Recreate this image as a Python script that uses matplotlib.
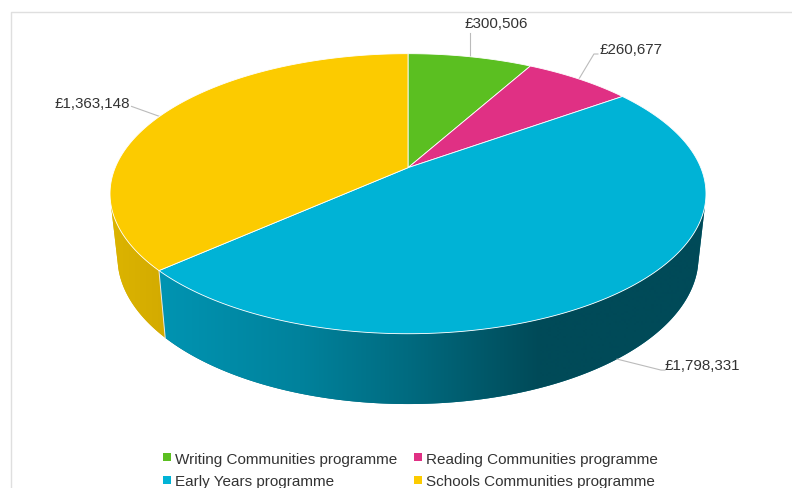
import numpy as np
import matplotlib
matplotlib.use("Agg")
import matplotlib.pyplot as plt
from matplotlib.patches import Polygon
from matplotlib.lines import Line2D
from matplotlib.colors import to_rgb

categories = ["Writing Communities programme", "Reading Communities programme",
              "Early Years programme", "Schools Communities programme"]
values = [300506, 260677, 1798331, 1363148]
labels = ["£300,506", "£260,677", "£1,798,331", "£1,363,148"]
colors = ["#5BBF21", "#E03084", "#00B3D6", "#FCCB00"]

plt.rcParams['font.family'] = ['Liberation Sans', 'DejaVu Sans']
TXT = "#333333"

fig = plt.figure(figsize=(7.92, 4.89), dpi=100)
ax = fig.add_axes([0, 0, 1, 1])
ax.axis("off")

# pie projection (perspective disc)
CX, CY = 408.0, 168.7
K, A, R = 0.1857, 135.2, 292.8
BOT_Y, BOT_SY, BOT_SX = 230.7, 1.05, 0.975
TH_MIN, TH_MAX = np.radians(105), np.radians(255)


def top(th):
    u, v = np.sin(th), np.cos(th)
    w = 1 + K * v
    return CX + R * u / w, CY - A * v / w


def bottom(th):
    u, v = np.sin(th), np.cos(th)
    w = 1 + K * v
    return CX + BOT_SX * R * u / w, BOT_Y - BOT_SY * A * v / w


vals = np.array(values, float)
edges = np.concatenate([[0], np.cumsum(vals) / vals.sum()]) * 2 * np.pi
mids = (edges[:-1] + edges[1:]) / 2

# side wall: horizontal gradient clipped to each visible wall section
side_stops = {
    2: ([160, 300, 408, 540, 710], ["#0094B2", "#00829C", "#006B80", "#004A58", "#004A58"]),
    3: ([105, 170], ["#DDB500", "#D2AA00"]),
}
for i, (xs, cs) in side_stops.items():
    t0, t1 = max(edges[i], TH_MIN), min(edges[i + 1], TH_MAX)
    if t1 <= t0:
        continue
    th = np.linspace(t0, t1, 300)
    tx, ty = top(th)
    bx, by = bottom(th)
    outline = np.column_stack([np.r_[tx, bx[::-1]], np.r_[ty, by[::-1]]])
    rgb = np.array([to_rgb(c) for c in cs])
    grid = np.arange(xs[0], xs[-1] + 1)
    img = np.stack([np.interp(grid, xs, rgb[:, j]) for j in range(3)], axis=-1)[None, :, :]
    base = Polygon(outline, closed=True, facecolor=tuple(rgb.mean(axis=0)), edgecolor="none", zorder=1.9)
    ax.add_patch(base)
    im = ax.imshow(img, extent=(xs[0], xs[-1], 489, 0), aspect="auto", zorder=2, interpolation="bilinear")
    im.set_clip_path(base)

ax.set_xlim(0, 792)
ax.set_ylim(489, 0)

# separator on the side wall
t = edges[3]
ax.plot([top(t)[0], bottom(t)[0]], [top(t)[1], bottom(t)[1]], color="#E8E8E8", lw=0.7, zorder=3)

# top face
for i in range(4):
    th = np.linspace(edges[i], edges[i + 1], 200)
    x, y = top(th)
    ax.fill(np.r_[CX, x], np.r_[CY, y], facecolor=colors[i], edgecolor="#FFFFFF",
            linewidth=0.6, joinstyle="round", zorder=4)

# frame
ax.plot([10.5, 10.5, 792], [489, 12.5, 12.5], color="#DFDFDF", lw=1.0, zorder=1)

# data labels with leader lines
LEAD = "#BBBBBB"
anchors = [top(mids[0]), top(mids[1]), bottom(mids[2]), top(mids[3])]
leaders = [[(0, -24)], [(15, -25), (19, -25)], [(44, 11), (48, 11)], [(-28, -10)]]
text_pos = [(496, 24, "center"), (600, 49.5, "left"), (665, 366, "left"), (130, 104, "right")]
for a, off, lab, (tx, ty, ha) in zip(anchors, leaders, labels, text_pos):
    xs = [a[0]] + [a[0] + o[0] for o in off]
    ys = [a[1]] + [a[1] + o[1] for o in off]
    ax.plot(xs, ys, color=LEAD, lw=0.8, zorder=3)
    ax.text(tx, ty, lab, ha=ha, va="center", fontsize=10.9, color=TXT, zorder=6)

# legend
handles = [Line2D([], [], linestyle="none", marker="s", markersize=5.4, color=c,
                  markeredgewidth=0) for c in colors]
order = [0, 2, 1, 3]
ax.legend([handles[i] for i in order], [categories[i] for i in order], ncol=2,
          loc="center", bbox_to_anchor=(410, 471), bbox_transform=ax.transData,
          frameon=False, fontsize=11, labelcolor=TXT, handlelength=0.6, handletextpad=0.22,
          columnspacing=1.1, labelspacing=0.55, borderpad=0, borderaxespad=0)

fig.savefig("out.png", dpi=100)
